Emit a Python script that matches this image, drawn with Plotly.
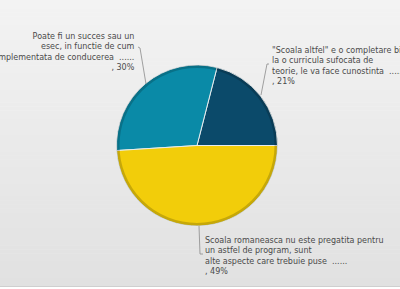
import plotly.graph_objects as go

W, H = 400, 289

labels = [
    "\"Scoala altfel\" e o completare binevenita<br>la o curricula sufocata de<br>teorie, le va face cunostinta  ......",
    "Poate fi un succes sau un<br>esec, in functie de cum<br>implementata de conducerea  ......",
    "Scoala romaneasca nu este pregatita pentru<br>un astfel de program, sunt<br>alte aspecte care trebuie puse  ......",
]
values = [21, 30, 49]
colors = ["#0b4a6a", "#0a8aa7", "#f2cd0a"]

def px(x):
    return x / W

def py(y):
    return 1 - y / H

fig = go.Figure()

# pie
cx, cy, r = 197, 145.5, 80.5
fig.add_trace(go.Pie(
    labels=labels,
    values=values,
    sort=False,
    direction="counterclockwise",
    rotation=14.4,
    marker=dict(colors=colors, line=dict(color="#e6ecee", width=1)),
    textinfo="none",
    hoverinfo="label+percent",
    showlegend=False,
    domain=dict(x=[px(cx - r), px(cx + r)], y=[py(cy + r), py(cy - r)]),
))

shapes = []
# background gradient bands
top, bottom = 0, 286
n = 70
c0, c1 = 0xf3, 0xe1
for i in range(n):
    y0 = top + (bottom - top) * i / n
    y1 = top + (bottom - top) * (i + 1) / n + 0.5
    c = round(c0 + (c1 - c0) * i / (n - 1))
    col = f"#{c:02x}{c:02x}{c:02x}"
    shapes.append(dict(type="rect", xref="paper", yref="paper", x0=0, x1=1,
                       y0=py(y1), y1=py(y0), fillcolor=col, line=dict(width=0), layer="below"))
shapes.append(dict(type="line", xref="paper", yref="paper", x0=0, x1=1,
                   y0=py(286.5), y1=py(286.5), line=dict(color="#cfcfcf", width=1), layer="below"))
# rim shading
shapes.append(dict(type="circle", xref="paper", yref="paper",
                   x0=px(cx - r + 1.5), x1=px(cx + r - 1.5), y0=py(cy + r - 1.5), y1=py(cy - r + 1.5),
                   line=dict(color="rgba(0,0,0,0.18)", width=3)))

# leader lines
def path(pts):
    d = "M " + " L ".join(f"{px(x)},{py(y)}" for x, y in pts)
    return dict(type="path", xref="paper", yref="paper", path=d,
                line=dict(color="#8a8a8a", width=0.8))

shapes.append(path([(138, 47), (140, 48), (146, 84)]))
shapes.append(path([(269, 64), (267, 64), (261, 95)]))
shapes.append(path([(199, 226), (200, 254), (203, 254)]))

font = dict(family="DejaVu Sans, Verdana, sans-serif", size=8, color="#4a4a4a")
ann = []
texts = [f"{l}<br>, {v}%" for l, v in zip(labels, values)]
ann.append(dict(x=px(270), y=py(44), xref="paper", yref="paper", text=texts[0],
                xanchor="left", yanchor="top", align="left", showarrow=False, font=font))
ann.append(dict(x=px(137), y=py(30), xref="paper", yref="paper", text=texts[1],
                xanchor="right", yanchor="top", align="right", showarrow=False, font=font))
ann.append(dict(x=px(203), y=py(234), xref="paper", yref="paper", text=texts[2],
                xanchor="left", yanchor="top", align="left", showarrow=False, font=font))

fig.update_layout(
    width=W, height=H,
    margin=dict(l=0, r=0, t=0, b=0),
    paper_bgcolor="#ffffff",
    plot_bgcolor="rgba(0,0,0,0)",
    shapes=shapes,
    annotations=ann,
)

fig.write_html("out.html")
